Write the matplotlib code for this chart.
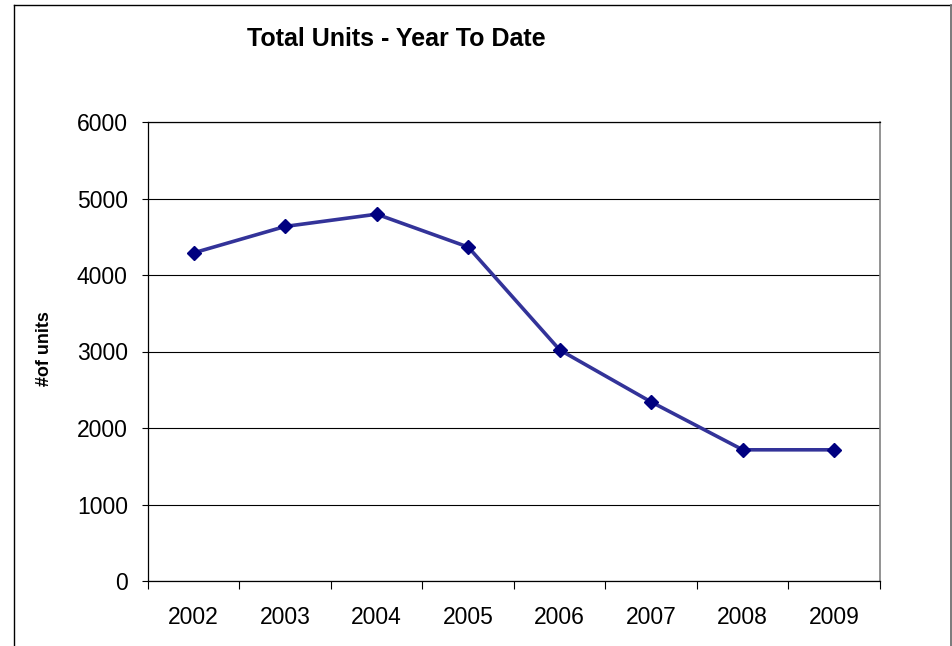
import matplotlib
matplotlib.use("Agg")
import matplotlib.pyplot as plt
from matplotlib.patches import Rectangle
from matplotlib.lines import Line2D

years = ["2002", "2003", "2004", "2005", "2006", "2007", "2008", "2009"]
units = [4290, 4635, 4795, 4365, 3020, 2340, 1715, 1715]
y_ticks = [0, 1000, 2000, 3000, 4000, 5000, 6000]

plt.rcParams['font.family'] = ['Liberation Sans', 'DejaVu Sans']

W, H = 953, 646
fig = plt.figure(figsize=(W / 100, H / 100), dpi=100)
fig.patch.set_facecolor("white")

# outer chart frame
fig.add_artist(Line2D([14 / W, 14 / W], [-0.05, 1 - 5 / H], transform=fig.transFigure,
                      color="#000000", linewidth=1.0))
fig.add_artist(Line2D([14 / W, 951 / W], [1 - 5 / H, 1 - 5 / H], transform=fig.transFigure,
                      color="#000000", linewidth=1.0))
fig.add_artist(Line2D([951 / W, 951 / W], [-0.05, 1 - 5 / H], transform=fig.transFigure,
                      color="#707070", linewidth=1.3))

ax = fig.add_axes([148 / W, 1 - 581 / H, (880 - 148) / W, (581 - 122) / H])
x = list(range(len(years)))
ax.plot(x, units, color="#333399", linewidth=2.6, marker="D", markersize=7,
        markerfacecolor="#000080", markeredgecolor="#000080", zorder=3, clip_on=False)

ax.set_xlim(-0.5, len(years) - 0.5)
ax.set_ylim(0, 6000)
ax.set_yticks(y_ticks)
ax.set_yticklabels([str(v) for v in y_ticks], fontsize=16.5)
ax.set_xticks(x)
ax.set_xticklabels(years, fontsize=16.5)
ax.tick_params(axis="x", which="major", length=0, pad=18)
ax.set_xticks([i - 0.5 for i in range(len(years) + 1)], minor=True)
ax.tick_params(axis="x", which="minor", length=6, width=0.8, color="#000000", direction="out")
ax.tick_params(axis="y", length=4.5, width=0.8, pad=10, direction="out")

ax.grid(axis="y", color="#000000", linewidth=0.8)
ax.set_axisbelow(True)
ax.spines["top"].set_color("#000000")
ax.spines["top"].set_linewidth(0.9)
ax.spines["right"].set_color("#808080")
ax.spines["right"].set_linewidth(1.2)
ax.spines["left"].set_color("#000000")
ax.spines["bottom"].set_color("#000000")
ax.spines["left"].set_linewidth(0.9)
ax.spines["bottom"].set_linewidth(0.9)

fig.text(45 / W, 1 - 349 / H, "#of units", rotation=90, ha="center", va="center",
         fontsize=13, fontweight="bold")

fig.text(396 / W, 1 - 46 / H, "Total Units - Year To Date", ha="center", va="baseline",
         fontsize=18, fontweight="bold")

fig.savefig("out.png", dpi=100)
